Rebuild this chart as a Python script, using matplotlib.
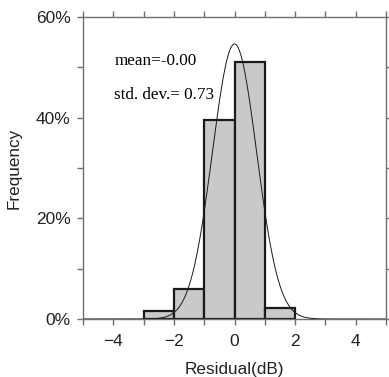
import numpy as np
import matplotlib
matplotlib.use("Agg")
import matplotlib.pyplot as plt

bin_edges = [-3, -2, -1, 0, 1, 2]
freq_pct = [1.6, 6.0, 39.6, 51.0, 2.2]
mean = 0.0
std = 0.73
x_ticks = [-4, -2, 0, 2, 4]
y_ticks = [0, 20, 40, 60]

fig = plt.figure(figsize=(3.89, 3.77), dpi=100)
ax = fig.add_axes([0.2134, 0.1538, 0.779, 0.801])

lefts = bin_edges[:-1]
widths = np.diff(bin_edges)
ax.bar(lefts, freq_pct, width=widths, align='edge', color='#c8c9cb',
       edgecolor='#1a1a1a', linewidth=1.6, zorder=2)

xs = np.linspace(-5, 5, 500)
pdf = 100 * np.exp(-0.5 * ((xs - mean) / std) ** 2) / (std * np.sqrt(2 * np.pi))
ax.plot(xs, pdf, color='#1a1a1a', linewidth=0.7, zorder=3)

ax.set_xlim(-5, 5)
ax.set_ylim(0, 60)
ax.set_xticks(x_ticks)
ax.set_xticks(np.arange(-5, 6, 1), minor=True)
ax.set_yticks(y_ticks)
ax.set_yticks(np.arange(0, 61, 10), minor=True)
ax.set_xticklabels(['\u22124', '\u22122', '0', '2', '4'])
ax.set_yticklabels([f'{v}%' for v in y_ticks])

for s in ax.spines.values():
    s.set_color('#707070')
    s.set_linewidth(1.0)
ax.tick_params(which='both', direction='out', length=4, width=1.0, color='#707070',
               top=True, right=True, labelsize=12.5, pad=5, labelcolor='#222222')
ax.tick_params(axis='x', pad=7)

ax.set_xlabel('Residual(dB)', fontsize=12.3, family='Liberation Sans', labelpad=9,
              color='#222222')
ax.set_ylabel('Frequency', fontsize=12.3, family='Liberation Sans', labelpad=10,
              color='#222222')
for lbl in ax.get_xticklabels() + ax.get_yticklabels():
    lbl.set_family('Liberation Sans')

ax.text(0.103, 0.855, 'mean=-0.00', transform=ax.transAxes, family='Liberation Serif',
        fontsize=12.3, va='center', ha='left')
ax.text(0.103, 0.742, 'std. dev.= 0.73', transform=ax.transAxes, family='Liberation Serif',
        fontsize=12.3, va='center', ha='left')

fig.savefig('out.png', dpi=100)
